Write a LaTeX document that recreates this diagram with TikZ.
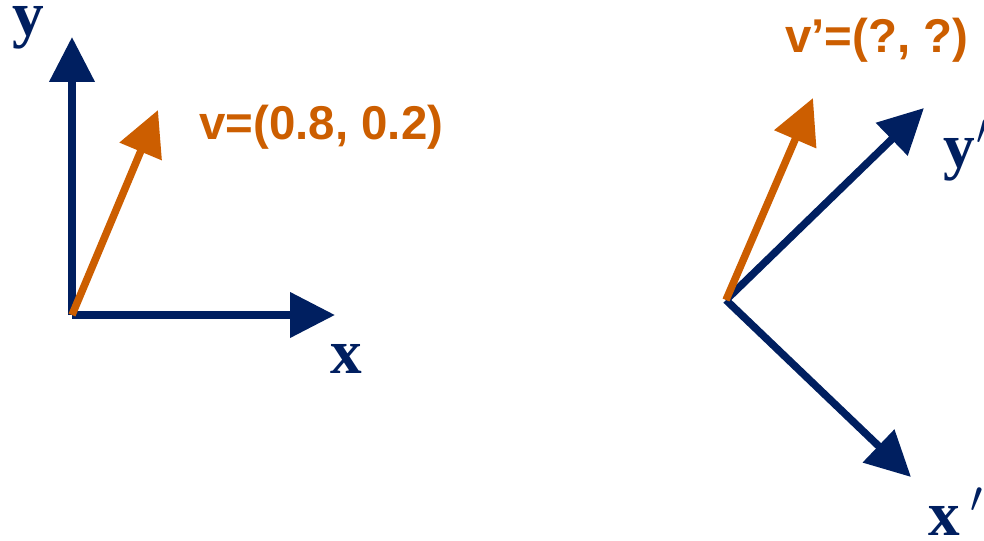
\documentclass[tikz,border=0pt]{standalone}
\usepackage{fix-cm}
\usepackage{fontspec}
\setsansfont{Liberation Sans}
\newfontfamily\axisfont{Liberation Serif}
\usepackage{xcolor}
\usepackage{tikz}
\usetikzlibrary{arrows.meta}

\definecolor{navy}{RGB}{0,31,96}
\definecolor{rust}{RGB}{204,94,0}

\begin{document}
\begin{tikzpicture}[
    x=0.02cm, y=-0.02cm,
    axis/.style={
        -{Triangle[length=0.9cm,width=0.88cm]},
        line width=0.15cm,
        navy
    },
    vec/.style={axis, rust},
    axislabel/.style={inner sep=0pt, text=navy, font=\axisfont\bfseries\fontsize{36}{40}\selectfont},
    veclabel/.style={inner sep=0pt, text=rust, font=\sffamily\bfseries\fontsize{27}{30}\selectfont}
]
\useasboundingbox (0,0) rectangle (984,541);

% original frame
\coordinate (origin) at (72,315);
\coordinate (ytip) at (72,37);
\coordinate (xtip) at (335,315);
\coordinate (vtip) at (158,110);

\draw[axis] (origin) -- (ytip);
\draw[axis] (origin) -- (xtip);
\draw[vec] (origin) -- (vtip);

\node[axislabel, anchor=base] (ylabel) at (28,35) {y};
\node[axislabel, anchor=base] (xlabel) at (346,373) {x};
\node[veclabel, anchor=base west] (vlabel) at (199,139) {v=(0.8, 0.2)};

% rotated frame
\coordinate (origin') at (726,300);
\coordinate (yptip) at (924,108);
\coordinate (xptip) at (911,477);
\coordinate (vptip) at (813,98);

\draw[axis] (origin') -- (yptip);
\draw[axis] (origin') -- (xptip);
\draw[vec] (origin') -- (vptip);

\node[axislabel, anchor=base west] (yplabel) at (943,167) {y\kern1pt$'$};
\node[axislabel, anchor=base west] (xplabel) at (928,535) {x\,$'$};
\node[veclabel, anchor=base west] (vplabel) at (785,52) {v’=(?, ?)};

\end{tikzpicture}
\end{document}
